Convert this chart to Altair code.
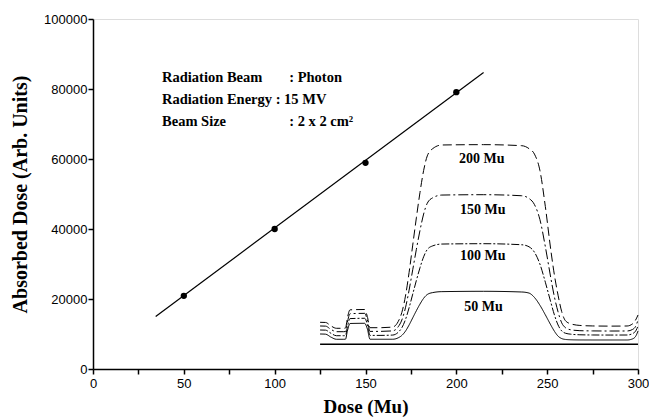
import altair as alt
import pandas as pd

# ---- calibration points and linear fit ----
dose = [50, 100, 150, 200]
absorbed = [20900, 40000, 58900, 79100]
fit_x = [34.5, 215]
fit_y = [15000, 84700]

# ---- inset dose profiles (drawn in the main axes' units) ----
prof_x = [125, 128, 131, 134, 138, 139, 140, 141.5, 149.5, 151, 152.5, 158, 165,
          168, 170, 172, 174, 176, 178, 180, 182, 184, 187, 192, 215, 236,
          240, 243, 246, 249, 252, 254, 256, 258, 260, 263, 268, 275, 285, 294,
          297, 299, 300]
prof_200 = [13340, 13300, 12300, 11630, 11630, 11700, 14500, 16900, 17000, 15000, 11800, 11800, 12000,
            13560, 16160, 20840, 27600, 35400, 43200, 50480, 56720, 60880, 62960, 64000, 64100, 63800,
            62960, 61400, 56750, 46400, 34000, 26800, 21080, 16400, 13840, 12900, 12450, 12300, 12250, 12290,
            12900, 14300, 15430]
prof_150 = [12290, 12250, 11300, 10660, 10660, 10700, 13300, 15800, 15900, 14000, 10750, 10750, 10900,
            12060, 14000, 17500, 22540, 28360, 34180, 39610, 44270, 47370, 48920, 49700, 49800, 49500,
            48730, 46980, 42710, 34940, 26010, 20570, 16300, 13190, 11830, 11200, 10950, 10880, 10850, 10860,
            11300, 12500, 14000]
prof_100 = [11140, 11100, 10200, 9510, 9510, 9550, 12000, 14400, 14490, 12800, 9600, 9600, 9700,
            10480, 11780, 14120, 17500, 21400, 25300, 28940, 32060, 34140, 35180, 35700, 35800, 35500,
            34920, 33370, 29990, 24790, 19070, 15430, 12570, 10880, 10230, 9950, 9780, 9720, 9700, 9710,
            10100, 11100, 12290]
prof_50 = [10000, 9950, 9100, 8490, 8490, 8520, 10800, 13000, 13060, 11500, 8500, 8500, 8500,
           8910, 9590, 10810, 12580, 14620, 16660, 18560, 20200, 21280, 21830, 22100, 22200, 22000,
           21690, 20440, 18230, 15470, 12570, 10780, 9390, 8700, 8450, 8350, 8300, 8290, 8290, 8290,
           8600, 9600, 10860]
series_names = ["200 Mu", "150 Mu", "100 Mu", "50 Mu"]
baseline_x = [125, 300]
baseline_y = [7100, 7100]

# profile labels
lab_text = ["200 Mu", "150 Mu", "100 Mu", "50 Mu"]
lab_x = [214, 214.5, 214.5, 215]
lab_y = [59900, 45400, 32300, 17600]

# annotation block
ann_left = ["Radiation Beam", "Radiation Energy : 15 MV", "Beam Size"]
ann_right = [": Photon", "", ": 2 x 2 cm²"]
ann_y = [83100, 76900, 70600]
ann_x_left = 38
ann_x_right = 108

SERIF = "Liberation Serif"
SANS = "Liberation Sans"

xs = alt.Scale(domain=[0, 300], nice=False)
ys = alt.Scale(domain=[0, 100000], nice=False)

x_axis = alt.Axis(
    values=list(range(0, 301, 25)),
    labelExpr="datum.value % 50 == 0 ? datum.label : ''",
    format="d", title="Dose (Mu)", titleFont=SERIF, titleFontSize=19, titleFontWeight="bold",
    titleColor="black", titleBaseline="middle", titleY=37,
    labelFont=SANS, labelFontSize=13, labelColor="black", labelPadding=3,
    tickSize=5, tickColor="black", tickWidth=1.5, domainColor="black", domainWidth=1.5,
    grid=False, labelFlush=False,
)
y_axis = alt.Axis(
    values=list(range(0, 100001, 10000)),
    labelExpr="datum.value % 20000 == 0 ? format(datum.value, 'd') : ''",
    title="Absorbed Dose (Arb. Units)", titleFont=SERIF, titleFontSize=20, titleFontWeight="bold",
    titleColor="black", titleAngle=270, titleAlign="center", titleBaseline="middle",
    titleX=-73, titleY=175,
    labelFont=SANS, labelFontSize=13, labelColor="black", labelPadding=1,
    tickSize=5, tickColor="black", tickWidth=1.5, domainColor="black", domainWidth=1.5,
    grid=False, labelFlush=False,
)

pts_df = pd.DataFrame({"x": dose, "y": absorbed})
fit_df = pd.DataFrame({"x": fit_x, "y": fit_y})

rows = []
for name, vals in zip(series_names, [prof_200, prof_150, prof_100, prof_50]):
    for i, (px, py) in enumerate(zip(prof_x, vals)):
        rows.append({"x": px, "y": py, "s": name, "o": i})
prof_df = pd.DataFrame(rows)
base_df = pd.DataFrame({"x": baseline_x, "y": baseline_y})
lab_df = pd.DataFrame({"x": lab_x, "y": lab_y, "t": lab_text})
annl_df = pd.DataFrame({"x": [ann_x_left] * 3, "y": ann_y, "t": ann_left})
annr_df = pd.DataFrame({"x": [ann_x_right] * 3, "y": ann_y, "t": ann_right})

fit = alt.Chart(fit_df).mark_line(color="black", strokeWidth=1.2).encode(
    x=alt.X("x:Q", scale=xs, axis=x_axis),
    y=alt.Y("y:Q", scale=ys, axis=y_axis),
)
pts = alt.Chart(pts_df).mark_point(filled=True, color="black", size=40, opacity=1).encode(
    x=alt.X("x:Q", scale=xs), y=alt.Y("y:Q", scale=ys)
)
prof = alt.Chart(prof_df).mark_line(color="black", strokeWidth=1, interpolate="monotone").encode(
    x=alt.X("x:Q", scale=xs), y=alt.Y("y:Q", scale=ys),
    detail="s:N", order="o:Q",
    strokeDash=alt.StrokeDash("s:N", legend=None, scale=alt.Scale(
        domain=series_names, range=[[9, 4], [10, 3, 2, 3], [8, 2, 2, 2], [1, 0]])),
)
base = alt.Chart(base_df).mark_line(color="black", strokeWidth=1.5).encode(
    x=alt.X("x:Q", scale=xs), y=alt.Y("y:Q", scale=ys)
)
labs = alt.Chart(lab_df).mark_text(font=SERIF, fontSize=14, fontWeight="bold", color="black",
                                   align="center", baseline="middle").encode(
    x=alt.X("x:Q", scale=xs), y=alt.Y("y:Q", scale=ys), text="t:N"
)
annl = alt.Chart(annl_df).mark_text(font=SERIF, fontSize=14.5, fontWeight="bold", color="black",
                                    align="left", baseline="middle").encode(
    x=alt.X("x:Q", scale=xs), y=alt.Y("y:Q", scale=ys), text="t:N"
)
annr = alt.Chart(annr_df).mark_text(font=SERIF, fontSize=14.5, fontWeight="bold", color="black",
                                    align="left", baseline="middle").encode(
    x=alt.X("x:Q", scale=xs), y=alt.Y("y:Q", scale=ys), text="t:N"
)

chart = alt.layer(fit, pts, prof, base, labs, annl, annr).properties(
    width=545, height=350,
    autosize=alt.AutoSizeParams(type="none"),
    padding={"left": 85, "top": 11, "right": 11, "bottom": 48},
).configure_view(stroke="black", strokeWidth=1.5).configure(background="white")

chart.save("out.html", embed_options={"renderer": "svg", "actions": False})
